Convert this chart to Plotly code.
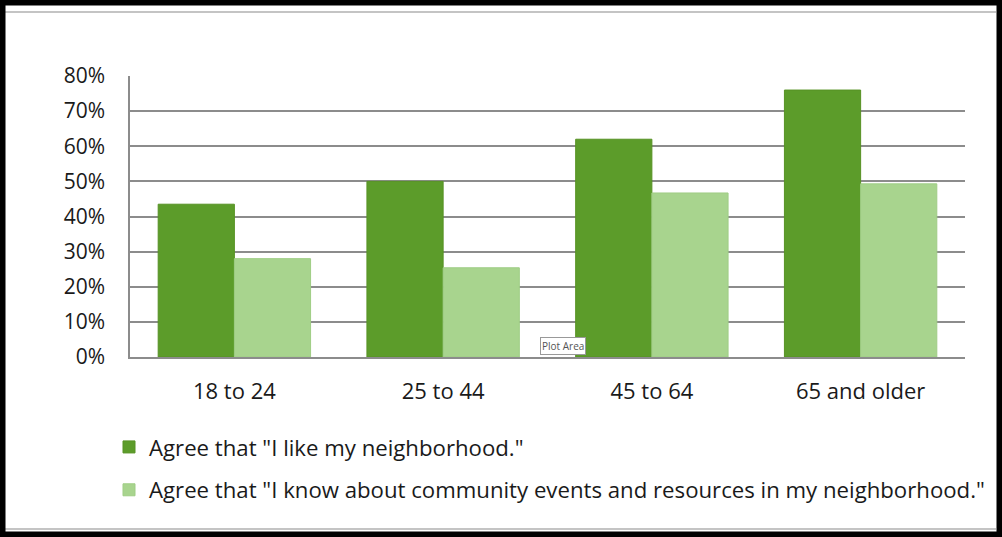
import plotly.graph_objects as go

categories = ["18 to 24", "25 to 44", "45 to 64", "65 and older"]
like_neighborhood = [0.435, 0.50, 0.62, 0.76]
know_events = [0.28, 0.254, 0.467, 0.493]
series_names = ['Agree that "I like my neighborhood."',
                'Agree that "I know about community events and resources in my neighborhood."']
y_ticks = [0, 0.1, 0.2, 0.3, 0.4, 0.5, 0.6, 0.7, 0.8]

DARK = "#5c9c2a"
LIGHT = "#a8d48e"
FONT = "Open Sans"

W, H = 1002, 537
PL, PR, PT, PB = 130, 965, 76, 357  # plot area in pixels
PW, PH = PR - PL, PB - PT


def px(x):
    return (x - PL) / PW


def py(y):
    return (PB - y) / PH


fig = go.Figure()
fig.add_trace(go.Bar(x=categories, y=like_neighborhood, name=series_names[0],
                     marker=dict(color=DARK, line=dict(color="#579224", width=1)),
                     legendgroup="a"))
fig.add_trace(go.Bar(x=categories, y=know_events, name=series_names[1],
                     marker=dict(color=LIGHT, line=dict(color="#9fcd85", width=1)),
                     legendgroup="b"))

fig.update_layout(
    width=W, height=H,
    margin=dict(l=PL, r=W - PR, t=PT, b=H - PB, autoexpand=False),
    paper_bgcolor="white", plot_bgcolor="white",
    barmode="group", bargap=0.27, bargroupgap=0,
    font=dict(family=FONT, color="#1a1a1a", size=21),
    showlegend=True,
    legend=dict(xref="paper", yref="paper", x=px(109), y=py(426),
                xanchor="left", yanchor="top", orientation="v",
                traceorder="grouped", tracegroupgap=11,
                font=dict(family=FONT, size=22.2, color="#1a1a1a"),
                bgcolor="rgba(0,0,0,0)"),
    xaxis=dict(showline=True, linecolor="#8c8c8c", linewidth=1.5,
               tickfont=dict(family=FONT, size=22), ticklabelstandoff=14,
               showgrid=False, automargin=False),
    yaxis=dict(range=[0, 0.8], tickvals=y_ticks, tickformat=".0%",
               showline=True, linecolor="#8c8c8c", linewidth=1.5,
               showgrid=True, gridcolor="#8c8c8c", gridwidth=1.5,
               zeroline=False, tickfont=dict(family=FONT, size=21),
               ticklabelstandoff=19, automargin=False),
)

# "Plot Area" tooltip
fig.add_annotation(xref="paper", yref="paper", x=px(563), y=py(355),
                   text="Plot Area", showarrow=False, font=dict(size=10, color="#555555", family=FONT),
                   bgcolor="white", bordercolor="#999999", borderwidth=1, borderpad=1)

# outer frame
fig.add_shape(type="line", xref="paper", yref="paper", x0=px(5), x1=px(996), y0=py(12), y1=py(12),
              line=dict(color="#b0b0b0", width=1.5))
fig.add_shape(type="line", xref="paper", yref="paper", x0=px(5), x1=px(996), y0=py(529), y1=py(529),
              line=dict(color="#b0b0b0", width=1.5))
fig.add_shape(type="rect", xref="paper", yref="paper", x0=px(0), x1=px(1002), y0=py(537), y1=py(0),
              line=dict(color="black", width=11), fillcolor="rgba(0,0,0,0)")

fig.write_html("out.html", config={"displayModeBar": False},
               post_script="document.body.style.margin='0';document.body.style.padding='0';")
